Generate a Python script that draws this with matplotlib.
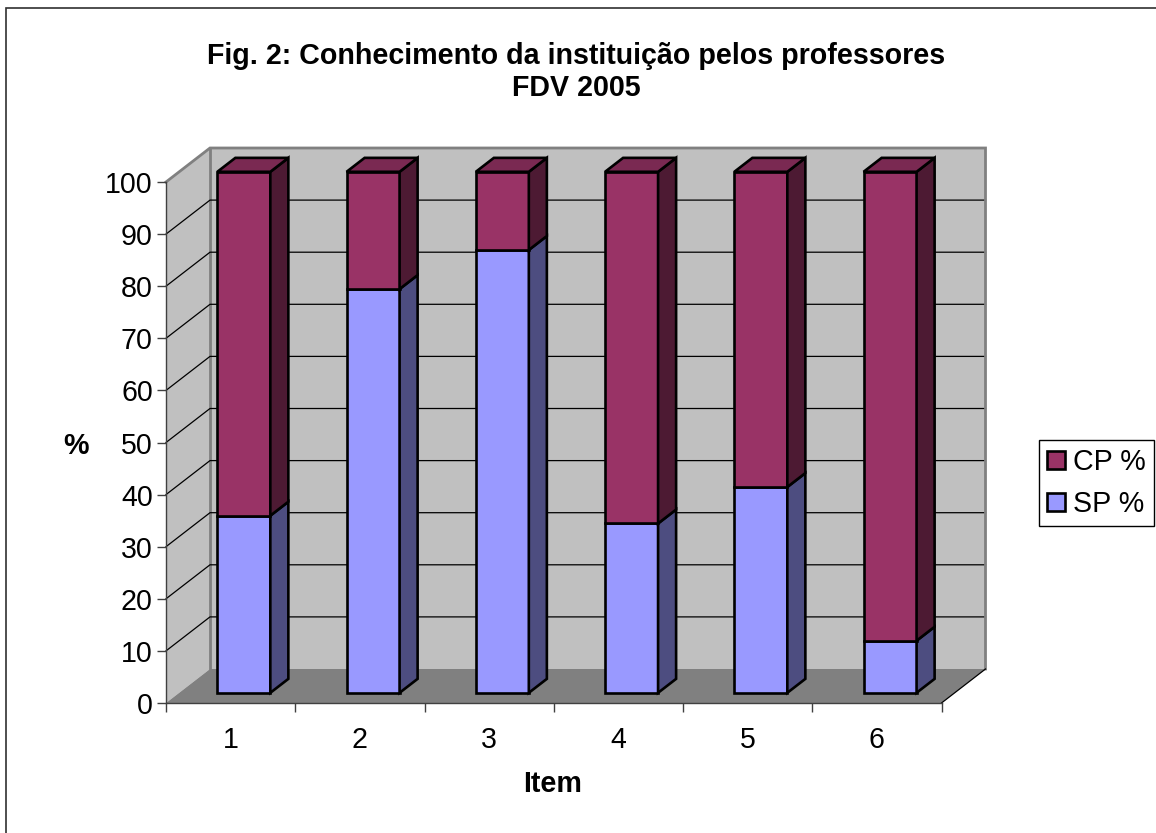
import matplotlib
matplotlib.use("Agg")
import matplotlib.pyplot as plt
from matplotlib.lines import Line2D
from matplotlib.patches import Polygon, Patch

items = [1, 2, 3, 4, 5, 6]
sp_values = [34, 77.5, 85, 32.5, 39.5, 10]
cp_values = [66, 22.5, 15, 67.5, 60.5, 90]
y_ticks = [0, 10, 20, 30, 40, 50, 60, 70, 80, 90, 100]

W, H = 1156, 833
plt.rcParams['font.family'] = ['Liberation Sans', 'DejaVu Sans']

# depth of the fake 3d box, in data units
DX = 44 / (775.5 / 6)
DY = 34 / (521 / 100)
bar_w = 0.41
d0, d1 = 0.30, 0.71
fs = 20.6


def proj(x, y, d):
    return (x + d * DX, y + d * DY)


def face(ax, pts, color, edge='black', lw=1.9, z=2):
    ax.add_patch(Polygon([proj(*p) for p in pts], closed=True, facecolor=color,
                         edgecolor=edge, linewidth=lw, clip_on=False,
                         zorder=z, joinstyle='miter'))


def box(ax, x, y0, y1, front, side, top, z):
    l = x - bar_w / 2
    r = x + bar_w / 2
    face(ax, [(l, y0, d0), (r, y0, d0), (r, y1, d0), (l, y1, d0)], front, z=z)
    face(ax, [(r, y0, d0), (r, y0, d1), (r, y1, d1), (r, y1, d0)], side, z=z)
    if top is not None:
        face(ax, [(l, y1, d0), (r, y1, d0), (r, y1, d1), (l, y1, d1)], top, z=z)


fig = plt.figure(figsize=(W / 100, H / 100), dpi=100)
# only the left and top edge of the chart frame show in the crop
fig.add_artist(Line2D([6 / W, 6 / W, 1], [0, (H - 7.5) / H, (H - 7.5) / H], transform=fig.transFigure,
                      color='#303030', linewidth=1.2, solid_joinstyle='miter'))

ax = fig.add_axes([166 / W, (H - 703) / H, 775.5 / W, 521 / H])
ax.set_xlim(0.5, 6.5)
ax.set_ylim(0, 100)
ax.patch.set_visible(False)
for s in ['top', 'right']:
    ax.spines[s].set_visible(False)
for s in ['left', 'bottom']:
    ax.spines[s].set_color('#404040')
    ax.spines[s].set_linewidth(1.0)

# walls and floor
face(ax, [(0.5, 0, 1), (6.5, 0, 1), (6.5, 100, 1), (0.5, 100, 1)], '#C0C0C0', edge='none', lw=0, z=0)
face(ax, [(0.5, 0, 0), (0.5, 0, 1), (0.5, 100, 1), (0.5, 100, 0)], '#C0C0C0', edge='none', lw=0, z=0)
face(ax, [(0.5, 0, 0), (6.5, 0, 0), (6.5, 0, 1), (0.5, 0, 1)], '#808080', edge='none', lw=0, z=0.5)

for t in y_ticks[1:-1]:
    pts = [proj(0.5, t, 0), proj(0.5, t, 1), proj(6.5, t, 1)]
    ax.plot([p[0] for p in pts], [p[1] for p in pts], color='black', lw=0.9,
            clip_on=False, zorder=1)

# wall outline
pts = [proj(0.5, 100, 0), proj(0.5, 100, 1), proj(6.5, 100, 1), proj(6.5, 0, 1)]
ax.plot([p[0] for p in pts], [p[1] for p in pts], color='#808080', lw=2.0,
        clip_on=False, zorder=1, solid_joinstyle='miter')
pts = [proj(0.5, 100, 1), proj(0.5, 0, 1)]
ax.plot([p[0] for p in pts], [p[1] for p in pts], color='#808080', lw=2.0,
        clip_on=False, zorder=0.6)
pts = [proj(6.5, 0, 0), proj(6.5, 0, 1)]
ax.plot([p[0] for p in pts], [p[1] for p in pts], color='black', lw=0.9,
        clip_on=False, zorder=1)

for i, x in enumerate(items):
    sp = sp_values[i]
    box(ax, x, 0, sp, '#9999FF', '#4D4D80', None, 3 + i)
    box(ax, x, sp, sp + cp_values[i], '#993366', '#4D1A33', '#7A2952', 3 + i)

ax.set_yticks(y_ticks)
ax.tick_params(axis='y', labelsize=fs, length=6.5, width=1.0, color='#404040', pad=3)
ax.set_xticks([v + 0.5 for v in [0] + items])
ax.set_xticklabels([])
ax.set_xticks(items, minor=True)
ax.set_xticklabels([str(v) for v in items], minor=True)
ax.tick_params(axis='x', which='major', length=6.5, width=1.0, color='#404040')
ax.tick_params(axis='x', which='minor', length=0, labelsize=fs, pad=16.5)

fig.text(76 / W, (H - 446) / H, '%', fontsize=fs, fontweight='bold', ha='center', va='center')
fig.text(553 / W, (H - 784) / H, 'Item', fontsize=fs, fontweight='bold', ha='center', va='center')
fig.text(576 / W, (H - 72) / H, 'Fig. 2: Conhecimento da instituição pelos professores\nFDV 2005',
         fontsize=fs, fontweight='bold', ha='center', va='center', linespacing=1.2)

handles = [Patch(facecolor='#993366', edgecolor='black', linewidth=1.9, label='CP %'),
           Patch(facecolor='#9999FF', edgecolor='black', linewidth=1.9, label='SP %')]
fig.legend(handles=handles, loc='center', bbox_to_anchor=(1096.5 / W, (H - 483) / H), frameon=True,
           fancybox=False, edgecolor='black', framealpha=1, fontsize=fs,
           handlelength=0.62, handleheight=0.62, handletextpad=0.3, labelspacing=0.5,
           borderpad=0.28, borderaxespad=0)

fig.savefig('out.png', dpi=100, facecolor='white')
